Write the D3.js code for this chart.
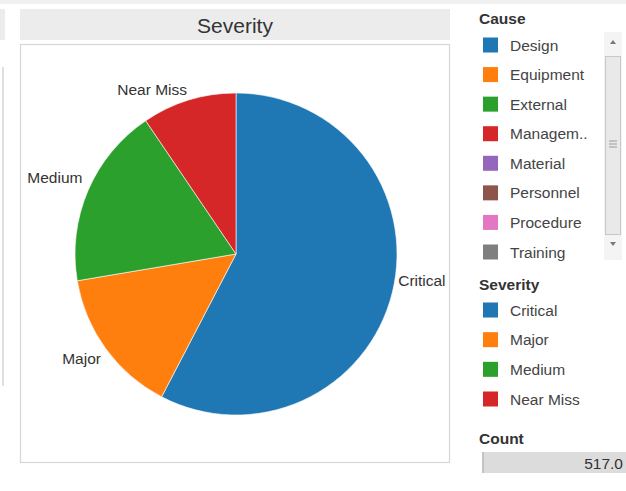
<!DOCTYPE html>
<html>
<head>
<meta charset="utf-8">
<script src="https://cdn.jsdelivr.net/npm/d3@7/dist/d3.min.js"></script>
<style>
  body { margin: 0; background: #fff; }
  svg { display: block; font-family: "Liberation Sans", Arial, sans-serif; }
</style>
</head>
<body>
<div id="chart"></div>
<script>
let width = 626, height = 491;

// data
let severities = ["Critical", "Major", "Medium", "Near Miss"];
let counts = [298, 76, 94, 49];
let causes = ["Design", "Equipment", "External", "Managem..", "Material", "Personnel", "Procedure", "Training"];
let totalLabel = "517.0";

let palette = ["#1f77b4", "#ff7f0e", "#2ca02c", "#d62728", "#9467bd", "#8c564b", "#e377c2", "#7f7f7f"];

let sevColor = d3.scaleOrdinal().domain(severities).range(palette);
let causeColor = d3.scaleOrdinal().domain(causes).range(palette);

let svg = d3.select('#chart').append('svg')
  .attr('width', width)
  .attr('height', height);

// top strip + left neighbour panel
svg.append('rect').attr('x', 0).attr('y', 0).attr('width', width).attr('height', 4).attr('fill', '#eef0f2');
svg.append('rect').attr('x', 0).attr('y', 9).attr('width', 5).attr('height', 31).attr('fill', '#ececec');
svg.append('line').attr('x1', 3).attr('x2', 3).attr('y1', 67).attr('y2', 386)
  .attr('stroke', '#d4d4d4').attr('stroke-width', 1.5);

// title bar
svg.append('rect').attr('x', 20).attr('y', 9).attr('width', 430).attr('height', 31).attr('fill', '#ececec');
svg.append('text').attr('x', 235).attr('y', 33).attr('text-anchor', 'middle')
  .attr('font-size', 21).attr('fill', '#333').text('Severity');

// panel
svg.append('rect').attr('x', 20.5).attr('y', 44.5).attr('width', 429).attr('height', 418)
  .attr('fill', '#fff').attr('stroke', '#d6d6d6').attr('stroke-width', 1.2);

// pie
let cx = 236, cy = 254, r = 161;
let pie = d3.pie().sort(null).value(d => d.v);
let arc = d3.arc().innerRadius(0).outerRadius(r);
let data = severities.map((s, i) => ({ s: s, v: counts[i] }));
let g = svg.append('g').attr('transform', `translate(${cx},${cy})`);
let arcs = pie(data);

g.selectAll('path').data(arcs).enter().append('path')
  .attr('d', arc)
  .attr('fill', d => sevColor(d.data.s))
  .attr('stroke', '#fff').attr('stroke-width', 0.6);

// labels just outside the pie at mid angle; small vertical nudges like tableau
let labelArc = d3.arc().innerRadius(r + 6).outerRadius(r + 6);
let nudge = { "Critical": -8, "Major": 12, "Medium": -5, "Near Miss": 1 };
g.selectAll('text.lbl').data(arcs).enter().append('text').attr('class', 'lbl')
  .attr('font-size', 15.5).attr('fill', '#333')
  .attr('x', d => labelArc.centroid(d)[0])
  .attr('y', d => labelArc.centroid(d)[1] + nudge[d.data.s])
  .attr('text-anchor', d => {
    let mid = (d.startAngle + d.endAngle) / 2;
    return Math.sin(mid) >= 0 ? 'start' : 'end';
  })
  .text(d => d.data.s);

// legend: Cause
let lx = 483, sw = 15, fs = 15.5;
svg.append('text').attr('x', 479).attr('y', 24).attr('font-size', fs).attr('font-weight', 'bold')
  .attr('fill', '#333').text('Cause');
let causeY = d3.scalePoint().domain(causes).range([45, 252]);
let cg = svg.append('g');
cg.selectAll('rect').data(causes).enter().append('rect')
  .attr('x', lx).attr('y', d => causeY(d) - sw / 2).attr('width', sw).attr('height', sw)
  .attr('fill', d => causeColor(d));
cg.selectAll('text').data(causes).enter().append('text')
  .attr('x', lx + 27).attr('y', d => causeY(d) + 5.5)
  .attr('font-size', fs).attr('fill', '#444').text(d => d);

// scrollbar
svg.append('rect').attr('x', 604).attr('y', 32).attr('width', 18).attr('height', 228).attr('fill', '#f4f4f4');
svg.append('rect').attr('x', 605.5).attr('y', 56.5).attr('width', 15).attr('height', 178)
  .attr('fill', '#e9e9e9').attr('stroke', '#c8c8c8');
svg.append('path').attr('d', 'M610,44 L613,40 L616,44 Z').attr('fill', '#777');
svg.append('path').attr('d', 'M610,242 L613,246 L616,242 Z').attr('fill', '#777');
[141, 144, 147].forEach(y => {
  svg.append('line').attr('x1', 609).attr('x2', 617).attr('y1', y).attr('y2', y).attr('stroke', '#999');
});

// legend: Severity
svg.append('text').attr('x', 479).attr('y', 290).attr('font-size', fs).attr('font-weight', 'bold')
  .attr('fill', '#333').text('Severity');
let sevY = d3.scalePoint().domain(severities).range([310, 399]);
let sg = svg.append('g');
sg.selectAll('rect').data(severities).enter().append('rect')
  .attr('x', lx).attr('y', d => sevY(d) - sw / 2).attr('width', sw).attr('height', sw)
  .attr('fill', d => sevColor(d));
sg.selectAll('text').data(severities).enter().append('text')
  .attr('x', lx + 27).attr('y', d => sevY(d) + 5.5)
  .attr('font-size', fs).attr('fill', '#444').text(d => d);

// count
svg.append('text').attr('x', 479).attr('y', 444).attr('font-size', fs).attr('font-weight', 'bold')
  .attr('fill', '#333').text('Count');
svg.append('rect').attr('x', 482).attr('y', 452).attr('width', 144).attr('height', 21).attr('fill', '#dcdcdc');
svg.append('line').attr('x1', 483).attr('x2', 483).attr('y1', 452).attr('y2', 473).attr('stroke', '#aaa');
svg.append('text').attr('x', 623).attr('y', 469).attr('text-anchor', 'end')
  .attr('font-size', fs).attr('fill', '#333').text(totalLabel);
</script>
</body>
</html>
